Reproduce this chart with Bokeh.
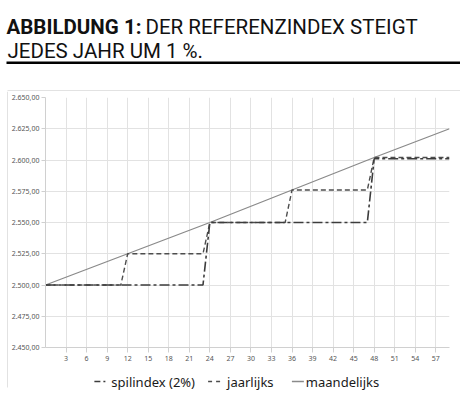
from bokeh.plotting import figure
from bokeh.models import FixedTicker, Range1d
from bokeh.layouts import column, row
from bokeh.core.properties import value
from bokeh.embed import file_html
from bokeh.resources import INLINE

# ---- data ----
months_spil = [0, 23, 24, 47, 48, 59]
spilindex = [2500, 2500, 2550, 2550, 2601, 2601]

months_jaar = [0, 11, 12, 23, 24, 35, 36, 47, 48, 59]
jaarlijks = [2500, 2500, 2525, 2525, 2550, 2550, 2576, 2576, 2602, 2602]

months_maand = [0, 12, 24, 36, 48, 59]
maandelijks = [2500, 2525, 2550, 2576, 2602, 2625]

x_ticks = [3, 6, 9, 12, 15, 18, 21, 24, 27, 30, 33, 36, 39, 42, 45, 48, 51, 54, 57]
y_ticks = [2450, 2475, 2500, 2525, 2550, 2575, 2600, 2625, 2650]
y_tick_labels = ["2.450,00", "2.475,00", "2.500,00", "2.525,00", "2.550,00",
                 "2.575,00", "2.600,00", "2.625,00", "2.650,00"]

series_names = ["spilindex (2%)", "jaarlijks", "maandelijks"]

title_bold = "ABBILDUNG 1:"
title_rest = "DER REFERENZINDEX STEIGT"
title_line2 = "JEDES JAHR UM 1 %."

TITLE_FONT = value("Roboto")
BOX_COL = "#c4c4c4"

STYLE_SPIL = dict(line_color="#3c3c3c", line_width=1.6, line_dash="10 3 3 3")
STYLE_JAAR = dict(line_color="#4d4d4d", line_width=1.4, line_dash="5 3")
STYLE_MAAND = dict(line_color="#8a8a8a", line_width=1.3)


def strip(w, h, x0=0, x1=None):
    f = figure(width=w, height=h, x_range=Range1d(x0, w if x1 is None else x1),
               y_range=Range1d(h, 0),
               x_axis_type=None, y_axis_type=None, output_backend="svg", toolbar_location=None,
               min_border=0, min_border_left=0, min_border_right=0,
               min_border_top=0, min_border_bottom=0)
    f.grid.visible = False
    f.outline_line_color = None
    return f


# ---- title strip (pixel coordinates, y downwards) ----
TW, TH = 460, 91
t = strip(TW, TH)
t.text(x=[6], y=[26], text=[title_bold], text_font=TITLE_FONT, text_font_style="bold",
       text_font_size="20.5px", text_color="#111111", text_baseline="alphabetic")
t.text(x=[145], y=[26], text=[title_rest], text_font=TITLE_FONT,
       text_font_size="20.5px", text_color="#111111", text_baseline="alphabetic")
t.text(x=[7], y=[50], text=[title_line2], text_font=TITLE_FONT,
       text_font_size="20.5px", text_color="#111111", text_baseline="alphabetic")
t.quad(left=[6], right=[461], top=[61], bottom=[63.5], fill_color="black", line_color=None)
t.segment(x0=[7], y0=[90.5], x1=[460], y1=[90.5], line_color=BOX_COL, line_width=1)

# ---- chart ----
CW, CH = 452, 278
p = figure(width=CW, height=CH, x_range=Range1d(0, 59), y_range=Range1d(2450, 2650),
           output_backend="svg", toolbar_location=None,
           min_border_left=36, min_border_right=11, min_border_top=6, min_border_bottom=22)
p.outline_line_color = None
p.background_fill_color = "white"
p.border_fill_color = "white"

grid_col = "#e2e2e2"
axis_col = "#d0d0d0"
lab_col = "#555555"

p.xaxis.ticker = FixedTicker(ticks=x_ticks)
p.xaxis.major_label_text_font = "Noto Sans"
p.xaxis.major_label_text_font_size = "7px"
p.xaxis.major_label_text_color = lab_col
p.xaxis.axis_line_color = axis_col
p.xaxis.major_tick_line_color = axis_col
p.xaxis.major_tick_in = 0
p.xaxis.major_tick_out = 5
p.xaxis.minor_tick_line_color = None
p.xaxis.major_label_standoff = 3

p.yaxis.ticker = FixedTicker(ticks=y_ticks)
p.yaxis.major_label_overrides = dict(zip(y_ticks, y_tick_labels))
p.yaxis.major_label_text_font = "Noto Sans"
p.yaxis.major_label_text_font_size = "7px"
p.yaxis.major_label_text_color = lab_col
p.yaxis.axis_line_color = axis_col
p.yaxis.major_tick_line_color = axis_col
p.yaxis.major_tick_in = 0
p.yaxis.major_tick_out = 4
p.yaxis.minor_tick_line_color = None
p.yaxis.major_label_standoff = 2

p.xgrid.ticker = FixedTicker(ticks=[0] + x_ticks)
p.ygrid.ticker = FixedTicker(ticks=y_ticks)
p.xgrid.grid_line_color = grid_col
p.ygrid.grid_line_color = grid_col

p.line(months_maand, maandelijks, **STYLE_MAAND)
p.line(months_jaar, jaarlijks, **STYLE_JAAR)
p.line(months_spil, spilindex, **STYLE_SPIL)

# ---- legend strip: its frame is aligned with the chart frame (page x 44..449) ----
LW, LH = 452, 26
lg = strip(LW, LH, x0=44, x1=449)
LY = 12
lg.segment(x0=[93], y0=[LY], x1=[107], y1=[LY], line_color="#3c3c3c", line_width=1.5, line_dash="6 3 2 3")
lg.segment(x0=[207], y0=[LY], x1=[220], y1=[LY], line_color="#4d4d4d", line_width=1.4, line_dash="4 4")
lg.segment(x0=[291], y0=[LY], x1=[303], y1=[LY], line_color="#8a8a8a", line_width=1.3)
lg.text(x=[110, 226, 305], y=[LY, LY, LY], text=series_names, text_font=value("Noto Sans"),
        text_font_size="13px", text_color="#1a1a1a", text_baseline="middle")

# ---- left edge of the chart box ----
lf = strip(8, CH + LH)
lf.segment(x0=[7.5], y0=[0], x1=[7.5], y1=[296], line_color=BOX_COL, line_width=1)

layout = column(t, row(lf, column(p, lg, spacing=0), spacing=0), spacing=0)
open("out.html", "w").write(file_html(layout, INLINE))
